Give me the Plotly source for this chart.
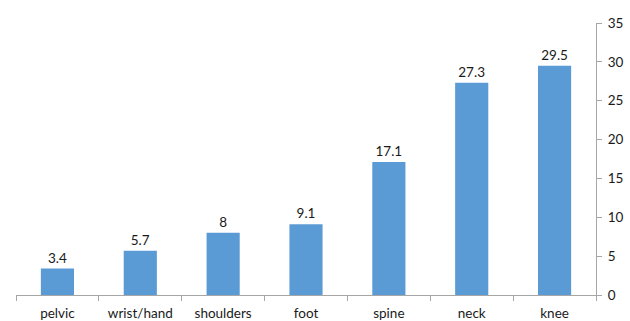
import plotly.graph_objects as go

categories = ["pelvic", "wrist/hand", "shoulders", "foot", "spine", "neck", "knee"]
values = [3.4, 5.7, 8, 9.1, 17.1, 27.3, 29.5]
labels = ["3.4", "5.7", "8", "9.1", "17.1", "27.3", "29.5"]

fig = go.Figure(go.Bar(
    x=categories, y=values, text=labels, textposition="outside",
    marker=dict(color="#5B9BD5", line=dict(width=0)),
    textfont=dict(size=13.5, color="#1a1a1a"), cliponaxis=False,
))

axis_color = "#A6A6A6"
fig.update_layout(
    width=630, height=321,
    margin=dict(l=16, r=34, t=23, b=26, autoexpand=False),
    plot_bgcolor="white", paper_bgcolor="white",
    bargap=0.6, showlegend=False,
    font=dict(family="Lato, Open Sans, sans-serif", size=13.5, color="#1a1a1a"),
    xaxis=dict(showline=True, linecolor=axis_color, linewidth=1, ticks="outside",
               tickson="boundaries", ticklen=5, tickcolor=axis_color, showgrid=False,
               automargin=False, ticklabelstandoff=6, tickfont=dict(size=13.5)),
    yaxis=dict(side="right", range=[0, 35], dtick=5, showline=True, linecolor=axis_color,
               linewidth=1, ticks="outside", ticklen=5, tickcolor=axis_color,
               automargin=False, showgrid=False, zeroline=False, ticklabelstandoff=3,
               tickfont=dict(size=13.5)),
)
fig.write_html("out.html")
